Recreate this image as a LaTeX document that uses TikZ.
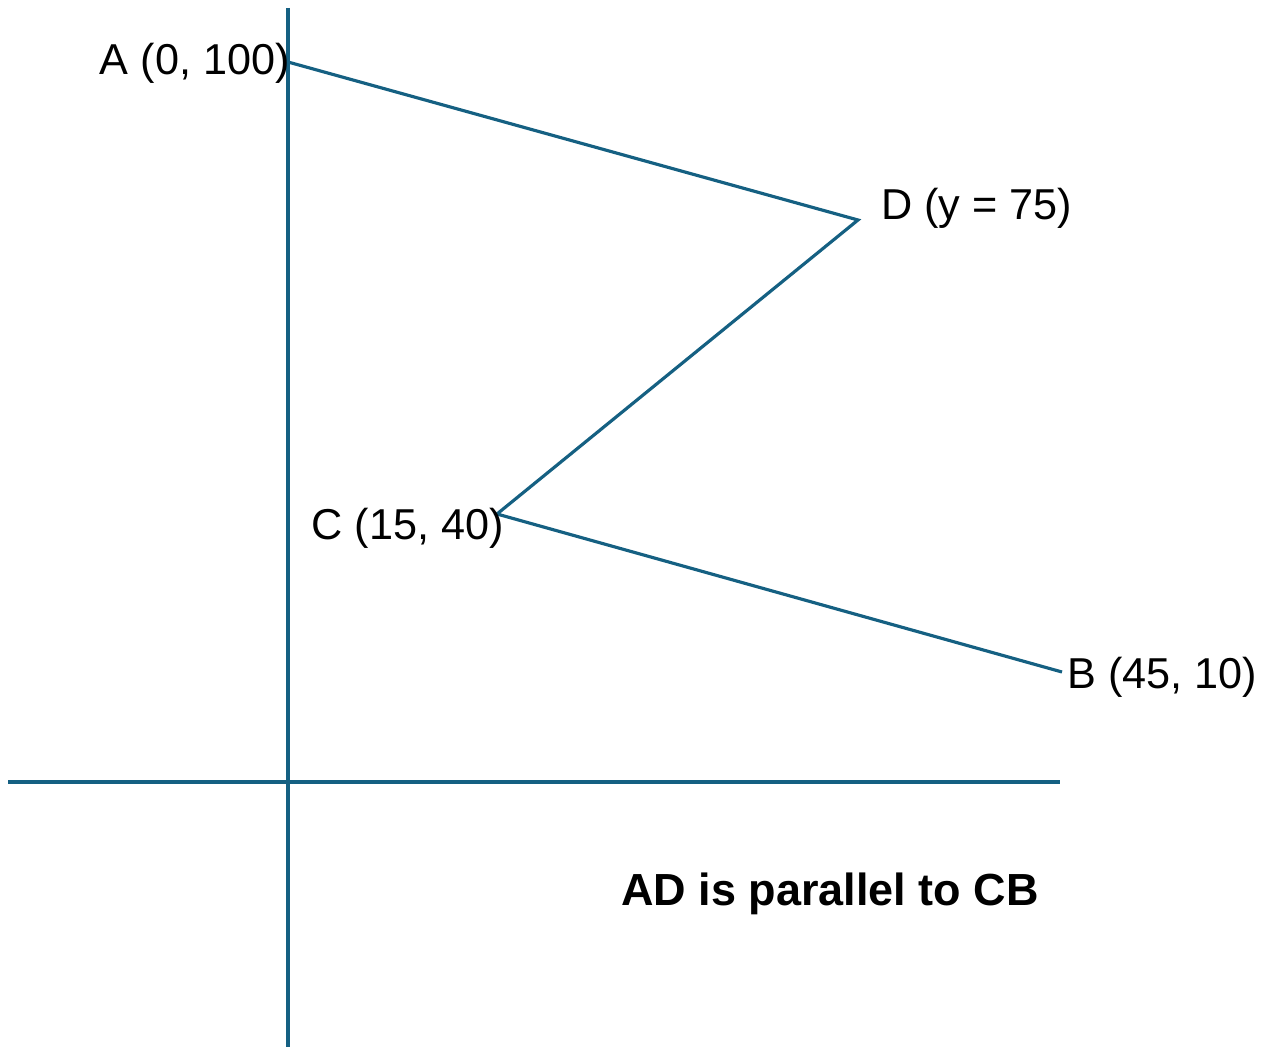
\documentclass[tikz,border=0pt]{standalone}
\usepackage{fontspec}
\setmainfont{Liberation Sans}
\definecolor{truc}{HTML}{156082}
\begin{document}
\begin{tikzpicture}[x=0.02cm,y=-0.02cm,
	nhan/.style={inner sep=0pt,font=\fontsize{24.6}{29}\selectfont}]
		\useasboundingbox (0,0) rectangle (1262,1047);
		% Hai trục
		\coordinate (Oy1) at (288,8);
		\coordinate (Oy2) at (288,1047);
		\coordinate (Ox1) at (8,782);
		\coordinate (Ox2) at (1060,782);
		\draw[truc,line width=2.2pt] (Oy1) -- (Oy2);
		\draw[truc,line width=2.2pt] (Ox1) -- (Ox2);
		% Các điểm
		\coordinate (A) at (288,62);
		\coordinate (D) at (858,220);
		\coordinate (C) at (497,514);
		\coordinate (B) at (1062,672);
		\draw[truc,line width=1.8pt] (A) -- (D) -- (C) -- (B);
			\node[nhan,anchor=east] (nA) at (290,63) {A (0, 100)};
			\node[nhan,anchor=west] (nD) at (881,208) {D (y = 75)};
			\node[nhan,anchor=east] (nC) at (504,528) {C (15, 40)};
			\node[nhan,anchor=west] (nB) at (1067,677) {B (45, 10)};
			\node[inner sep=0pt,font=\fontsize{25.6}{30}\selectfont\bfseries] (ghi) at (830,894) {AD is parallel to CB};
\end{tikzpicture}
\end{document}
